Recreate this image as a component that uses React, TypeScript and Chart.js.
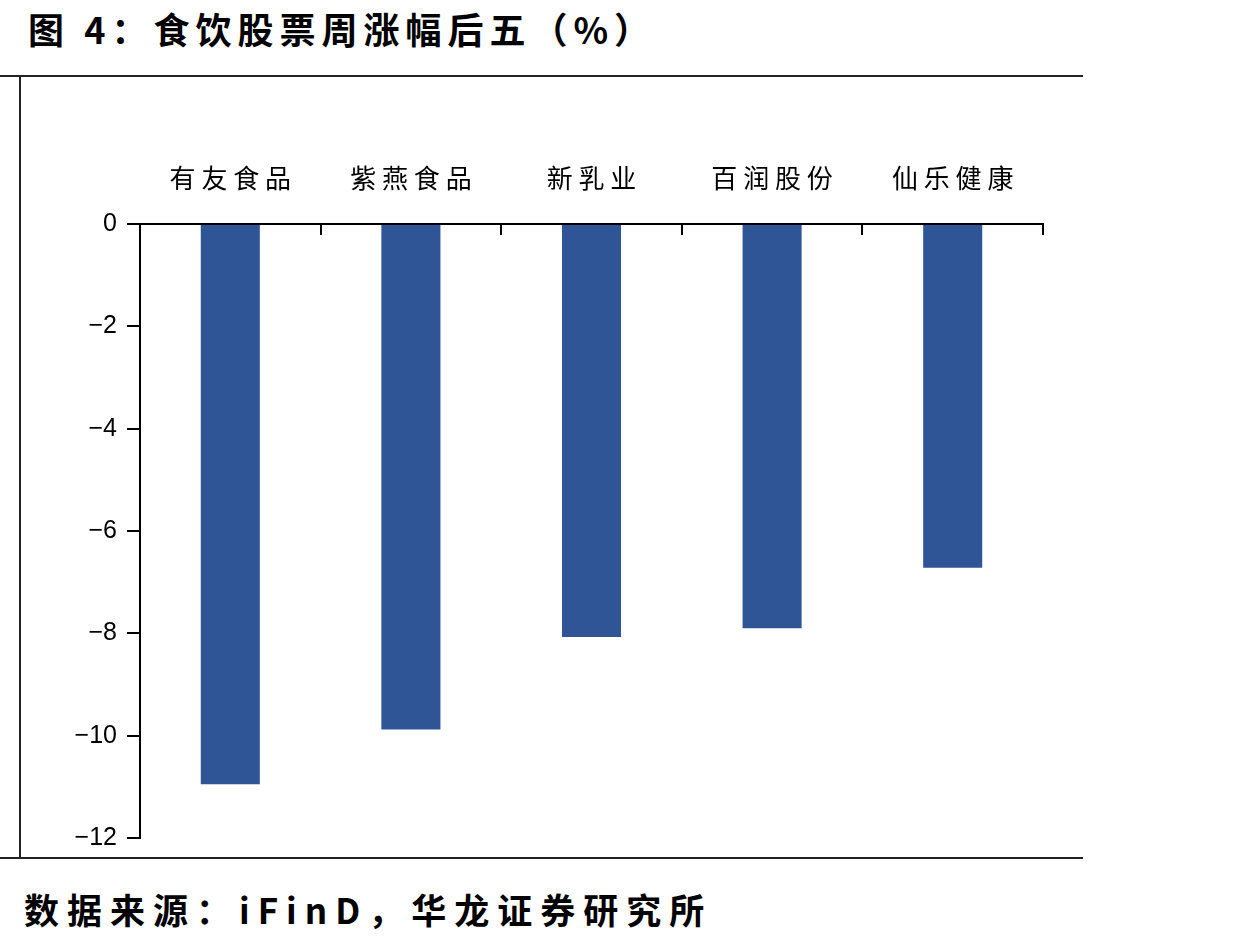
import React, { useEffect, useRef } from "react";
import { Chart, registerables } from "chart.js";

Chart.register(...registerables);

const categories = ["有友食品", "紫燕食品", "新乳业", "百润股份", "仙乐健康"];
const weeklyChange = [-10.95, -9.88, -8.07, -7.9, -6.72];
const yTicks = [0, -2, -4, -6, -8, -10, -12];

const title = "图 4：食饮股票周涨幅后五（%）";
const source = "数据来源：iFinD，华龙证券研究所";

const innerTicksPlugin = {
  id: "innerTicks",
  afterDraw(chart: any) {
    const x = chart.scales.x;
    const { ctx, chartArea } = chart;
    const n = categories.length;
    const half = (x.getPixelForValue(1) - x.getPixelForValue(0)) / 2;
    ctx.save();
    ctx.strokeStyle = "#000";
    ctx.lineWidth = 2;
    for (let i = 0; i <= n; i++) {
      const px = Math.round(x.getPixelForValue(Math.min(i, n - 1)) + (i === n ? half : -half));
      ctx.beginPath();
      ctx.moveTo(px, chartArea.top);
      ctx.lineTo(px, chartArea.top + 11);
      ctx.stroke();
    }
    ctx.restore();
  },
};

export default function App() {
  const ref = useRef<HTMLCanvasElement | null>(null);
  useEffect(() => {
    if (!ref.current) return;
    const chart = new Chart(ref.current, {
      type: "bar",
      data: {
        labels: categories,
        datasets: [
          {
            data: weeklyChange,
            backgroundColor: "#2F5597",
            categoryPercentage: 1,
            barPercentage: 0.327,
          },
        ],
      },
      options: {
        responsive: false,
        animation: false,
        layout: { padding: { left: 0, top: 0, right: 40, bottom: 0 } },
        plugins: { legend: { display: false }, tooltip: { enabled: false } },
        scales: {
          x: {
            position: "top",
            grid: { display: true, drawOnChartArea: false, drawTicks: false },
            border: { display: true, color: "#000", width: 2 },
            ticks: {
              color: "#000",
              padding: 30,
              font: { family: "'Noto Sans CJK SC', serif", size: 26 },
              callback: (_v: any, i: number) => categories[i].split("").join(" "),
            },
            afterFit: (s: any) => {
              s.height = 147;
            },
          },
          y: {
            min: -12,
            max: 0,
            grid: { display: true, drawOnChartArea: false, drawTicks: true, tickLength: 13, color: "#000", lineWidth: 2 },
            border: { display: true, color: "#000", width: 2 },
            afterBuildTicks: (s: any) => {
              s.ticks = yTicks.map((v) => ({ value: v }));
            },
            ticks: {
              color: "#000",
              padding: 10,
              font: { family: "'Liberation Sans', Arial, sans-serif", size: 25 },
              callback: (v: any) => String(v).replace("-", "−"),
            },
            afterFit: (s: any) => {
              s.width = 120;
            },
          },
        },
      },
      plugins: [innerTicksPlugin],
    });
    return () => chart.destroy();
  }, []);

  return (
    <div style={{ position: "absolute", left: 0, top: 0, width: 1239, height: 944, background: "#fff" }}>
      <div
        style={{
          position: "absolute",
          left: 28,
          top: 4,
          fontFamily: "'Noto Sans CJK SC', sans-serif",
          fontWeight: 700,
          fontSize: 36,
          letterSpacing: 6,
          lineHeight: "48px",
          color: "#000",
          whiteSpace: "nowrap",
        }}
      >
        {title}
      </div>
      <canvas ref={ref} width={1063} height={786} style={{ position: "absolute", left: 20, top: 77, width: 1063, height: 786 }} />
      <div style={{ position: "absolute", left: 0, top: 75, width: 1083, height: 2, background: "#222" }} />
      <div style={{ position: "absolute", left: 19, top: 76, width: 2, height: 782, background: "#222" }} />
      <div style={{ position: "absolute", left: 0, top: 857, width: 1083, height: 2, background: "#222" }} />
      <div
        style={{
          position: "absolute",
          left: 24,
          top: 885,
          fontFamily: "'Noto Sans CJK SC', sans-serif",
          fontWeight: 700,
          fontSize: 35,
          letterSpacing: 8,
          lineHeight: "48px",
          color: "#000",
          whiteSpace: "nowrap",
        }}
      >
        {source}
      </div>
    </div>
  );
}
